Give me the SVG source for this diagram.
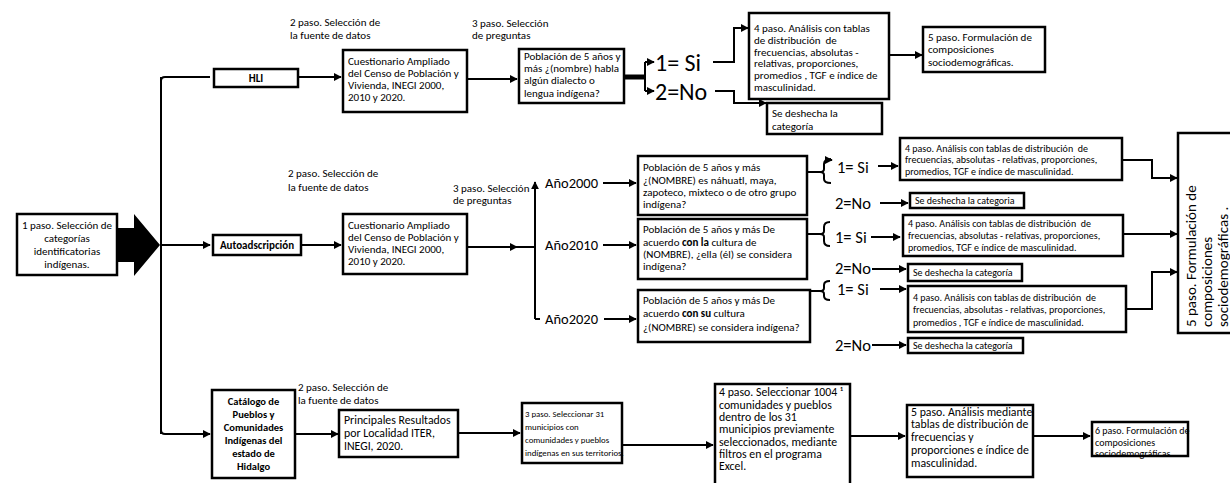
<svg xmlns="http://www.w3.org/2000/svg" width="1230" height="483" viewBox="0 0 1230 483">
<style>
text{font-family:Carlito,Lato,"Liberation Sans",sans-serif;fill:#000}
.t11{font-size:11px}
.t10{font-size:10px}
.t12{font-size:11.8px}
.t9{font-size:8.8px}
.t105{font-size:10.5px}
.t6{font-size:10px}
.b{font-weight:bold}
.big{font-size:24px}
.yr{font-size:14.5px}
.sn{font-size:16.5px}
.rot{font-size:15px}
.box{fill:#fff;stroke:#000;stroke-width:2.5}
.ln{fill:none;stroke:#000;stroke-width:2}
.m{text-anchor:middle}
</style>
<defs>
<marker id="ah" viewBox="0 0 10 10" refX="9" refY="5" markerWidth="4" markerHeight="4" orient="auto" markerUnits="strokeWidth">
<path d="M0,0 L10,5 L0,10 z" fill="#000"/>
</marker>
</defs>

<g id="connectors">
<path d="M117,228 H134 V214 L160,245 L134,276 V262 H117 z" fill="#000"/>
<path class="ln" d="M210,77 H165 Q161,77 161,81 V430 Q161,434 165,434 H210" marker-end="url(#ah)"/>
<path class="ln" d="M161,77 V434"/>
<path class="ln" d="M161,245 H210" marker-end="url(#ah)"/>
<path class="ln" d="M298,77 H341" marker-end="url(#ah)"/>
<path class="ln" d="M467,79 H517" marker-end="url(#ah)"/>
<path d="M624,77 H646" stroke="#000" stroke-width="5" fill="none"/>
<path class="ln" d="M645,62 V91"/>
<path class="ln" d="M645,62 H654" marker-end="url(#ah)"/>
<path class="ln" d="M645,91 H654" marker-end="url(#ah)"/>
<path class="ln" d="M713,62 H734 V28 H748" marker-end="url(#ah)"/>
<path class="ln" d="M715,91 H734 V103 H766" marker-end="url(#ah)"/>
<path class="ln" d="M889,55 H922" marker-end="url(#ah)"/>
<path class="ln" d="M301,245 H341" marker-end="url(#ah)"/>
<path class="ln" d="M467,247 H517" marker-end="url(#ah)"/>
<path class="ln" d="M517,247 H535"/>
<path class="ln" d="M535,319 V182" marker-end="url(#ah)"/>
<path class="ln" d="M535,319 H540"/>
<path class="ln" d="M603,183 H636" marker-end="url(#ah)"/>
<path class="ln" d="M603,245 H636" marker-end="url(#ah)"/>
<path class="ln" d="M604,319 H636" marker-end="url(#ah)"/>
<path class="ln" d="M807,172 H820 M831,159 Q824,159 824,164 V169 Q824,172 820,172 Q824,172 824,175 V179 Q824,183 831,183"/>
<path class="ln" d="M826,160 H832" marker-end="url(#ah)"/>
<path class="ln" d="M807,234 H820 M830,222 Q824,222 824,227 V231 Q824,234 820,234 Q824,234 824,237 V241 Q824,246 830,246"/>
<path class="ln" d="M810,291 H820 M830,281 Q824,281 824,285 V288 Q824,291 820,291 Q824,291 824,294 V296 Q824,300 830,300"/>
<path class="ln" d="M878,166 H898" marker-end="url(#ah)"/>
<path class="ln" d="M880,203 H908" marker-end="url(#ah)"/>
<path class="ln" d="M871,237 H900" marker-end="url(#ah)"/>
<path class="ln" d="M872,269 H906" marker-end="url(#ah)"/>
<path class="ln" d="M880,289 H906" marker-end="url(#ah)"/>
<path class="ln" d="M872,345 H906" marker-end="url(#ah)"/>
<path class="ln" d="M1122,160 H1152 V178 H1177" marker-end="url(#ah)"/>
<path class="ln" d="M1123,234 H1177" marker-end="url(#ah)"/>
<path class="ln" d="M1126,309 H1152 V272 H1177" marker-end="url(#ah)"/>
<path class="ln" d="M295,434 H338" marker-end="url(#ah)"/>
<path class="ln" d="M458,433 H520" marker-end="url(#ah)"/>
<path class="ln" d="M622,445 H713" marker-end="url(#ah)"/>
<path class="ln" d="M850,436 H905" marker-end="url(#ah)"/>
<path class="ln" d="M1033,436 H1090" marker-end="url(#ah)"/>
</g>

<g id="n1">
<rect class="box" x="17" y="214" width="100" height="61"/>
<text class="t11 m" x="67" y="229">1 paso. Selección de</text>
<text class="t11 m" x="67" y="242">categorías</text>
<text class="t11 m" x="67" y="255">identificatorias</text>
<text class="t11 m" x="67" y="268">indígenas.</text>
</g>

<g id="hli">
<rect class="box" x="214" y="69" width="84" height="18"/>
<text class="t11 b m" x="256" y="82">HLI</text>
</g>
<g id="lbl2a"><text class="t11" x="290" y="26">2 paso. Selección de</text><text class="t11" x="290" y="39">la fuente de datos</text></g>
<g id="cuest1">
<rect class="box" x="343" y="50" width="124" height="62"/>
<text class="t11" x="348" y="65">Cuestionario Ampliado</text>
<text class="t11" x="348" y="77">del Censo de Población y</text>
<text class="t11" x="348" y="89">Vivienda, INEGI 2000,</text>
<text class="t11" x="348" y="101">2010 y 2020.</text>
</g>
<g id="lbl3a"><text class="t11" x="472" y="27">3 paso. Selección</text><text class="t11" x="472" y="39">de preguntas</text></g>
<g id="qhli">
<rect class="box" x="519" y="49" width="105" height="54"/>
<text class="t11" x="524" y="60">Población de 5 años y</text>
<text class="t11" x="524" y="72">más ¿(nombre) habla</text>
<text class="t11" x="524" y="84">algún dialecto o</text>
<text class="t11" x="524" y="97">lengua indígena?</text>
</g>
<g id="si0"><text class="big" x="655" y="71">1= Si</text></g>
<g id="no0"><text class="big" x="655" y="100">2=No</text></g>
<g id="p4hli">
<rect class="box" x="749" y="13" width="140" height="86"/>
<text class="t11" x="754" y="32">4 paso. Análisis con tablas</text>
<text class="t11" x="754" y="44" xml:space="preserve">de distribución  de</text>
<text class="t11" x="754" y="56">frecuencias, absolutas -</text>
<text class="t11" x="754" y="67">relativas, proporciones,</text>
<text class="t11" x="754" y="79">promedios , TGF e índice de</text>
<text class="t11" x="754" y="91">masculinidad.</text>
</g>
<g id="deshli">
<rect class="box" x="767" y="103" width="115" height="31"/>
<text class="t11" x="772" y="117">Se deshecha la</text>
<text class="t11" x="772" y="130">categoría</text>
</g>
<g id="p5hli">
<rect class="box" x="923" y="27" width="122" height="45"/>
<text class="t11" x="928" y="41">5 paso. Formulación de</text>
<text class="t11" x="928" y="53">composiciones</text>
<text class="t11" x="928" y="66">sociodemográficas.</text>
</g>

<g id="auto">
<rect class="box" x="213" y="235" width="88" height="20"/>
<text class="t11 b m" x="257" y="249">Autoadscripción</text>
</g>
<g id="lbl2b"><text class="t11" x="288" y="177">2 paso. Selección de</text><text class="t11" x="288" y="191">la fuente de datos</text></g>
<g id="cuest2">
<rect class="box" x="343" y="214" width="124" height="60"/>
<text class="t11" x="348" y="229">Cuestionario Ampliado</text>
<text class="t11" x="348" y="241">del Censo de Población y</text>
<text class="t11" x="348" y="253">Vivienda, INEGI 2000,</text>
<text class="t11" x="348" y="265">2010 y 2020.</text>
</g>
<g id="lbl3b"><text class="t11" x="453" y="192">3 paso. Selección</text><text class="t11" x="453" y="204">de preguntas</text></g>
<g id="y2000"><text class="yr" x="545" y="188">Año2000</text></g>
<g id="y2010"><text class="yr" x="545" y="250">Año2010</text></g>
<g id="y2020"><text class="yr" x="545" y="324">Año2020</text></g>
<g id="q2000">
<rect class="box" x="638" y="156" width="169" height="59"/>
<text class="t11" x="643" y="171">Población de 5 años y más</text>
<text class="t11" x="643" y="184">¿(NOMBRE) es náhuatl, maya,</text>
<text class="t11" x="643" y="196">zapoteco, mixteco o de otro grupo</text>
<text class="t11" x="643" y="208">indígena?</text>
</g>
<g id="q2010">
<rect class="box" x="638" y="219" width="169" height="60"/>
<text class="t11" x="643" y="233">Población de 5 años y más De</text>
<text class="t11" x="643" y="246">acuerdo <tspan class="b">con la</tspan> cultura de</text>
<text class="t11" x="643" y="258">(NOMBRE), ¿ella (él) se considera</text>
<text class="t11" x="643" y="270">indígena?</text>
</g>
<g id="q2020">
<rect class="box" x="638" y="290" width="172" height="52"/>
<text class="t11" x="643" y="304">Población de 5 años y más De</text>
<text class="t11" x="643" y="317">acuerdo <tspan class="b">con su</tspan> cultura</text>
<text class="t11" x="643" y="331">¿(NOMBRE) se considera indígena?</text>
</g>
<g id="si1"><text class="sn" x="837" y="173">1= Si</text></g>
<g id="no1"><text class="sn" x="835" y="209">2=No</text></g>
<g id="si2"><text class="sn" x="835" y="243">1= Si</text></g>
<g id="no2"><text class="sn" x="835" y="274">2=No</text></g>
<g id="si3"><text class="sn" x="837" y="295">1= Si</text></g>
<g id="no3"><text class="sn" x="835" y="351">2=No</text></g>
<g id="p4a">
<rect class="box" x="900" y="138" width="222" height="42"/>
<text class="t10" x="905" y="152" xml:space="preserve">4 paso. Análisis con tablas de distribución  de</text>
<text class="t10" x="905" y="163">frecuencias, absolutas - relativas, proporciones,</text>
<text class="t10" x="905" y="175">promedios, TGF e índice de masculinidad.</text>
</g>
<g id="desa">
<rect class="box" x="910" y="193" width="114" height="15"/>
<text class="t10" x="915" y="204">Se deshecha la categoria</text>
</g>
<g id="p4b">
<rect class="box" x="903" y="215" width="220" height="41"/>
<text class="t10" x="908" y="227" xml:space="preserve">4 paso. Análisis con tablas de distribución  de</text>
<text class="t10" x="908" y="239">frecuencias, absolutas - relativas, proporciones,</text>
<text class="t10" x="908" y="251">promedios, TGF e índice de masculinidad.</text>
</g>
<g id="desb">
<rect class="box" x="908" y="264" width="114" height="17"/>
<text class="t10" x="913" y="276">Se deshecha la categoría</text>
</g>
<g id="p4c">
<rect class="box" x="908" y="286" width="218" height="46"/>
<text class="t10" x="913" y="301" xml:space="preserve">4 paso. Análisis con tablas de distribución  de</text>
<text class="t10" x="913" y="313">frecuencias, absolutas - relativas, proporciones,</text>
<text class="t10" x="913" y="326">promedios , TGF e índice de masculinidad.</text>
</g>
<g id="desc">
<rect class="box" x="908" y="338" width="115" height="15"/>
<text class="t10" x="913" y="349">Se deshecha la categoría</text>
</g>
<g id="p5big">
<rect class="box" x="1178" y="133" width="70" height="200"/>
<text class="rot" transform="translate(1196,327) rotate(-90)">5 paso. Formulación de</text>
<text class="rot" transform="translate(1212,327) rotate(-90)">composiciones</text>
<text class="rot" transform="translate(1228,327) rotate(-90)">sociodemográficas .</text>
</g>

<g id="cat">
<rect class="box" x="212" y="390" width="83" height="88"/>
<text class="t105 b m" x="253.5" y="405">Catálogo de</text>
<text class="t105 b m" x="253.5" y="418">Pueblos y</text>
<text class="t105 b m" x="253.5" y="431">Comunidades</text>
<text class="t105 b m" x="253.5" y="444">Indígenas del</text>
<text class="t105 b m" x="253.5" y="457">estado de</text>
<text class="t105 b m" x="253.5" y="470">Hidalgo</text>
</g>
<g id="lbl2c"><text class="t11" x="298" y="391">2 paso. Selección de</text><text class="t11" x="298" y="404">la fuente de datos</text></g>
<g id="princ">
<rect class="box" x="339" y="410" width="119" height="47"/>
<text class="t12" x="344" y="424">Principales Resultados</text>
<text class="t12" x="344" y="437">por Localidad ITER,</text>
<text class="t12" x="344" y="450">INEGI, 2020.</text>
</g>
<g id="p3c">
<rect class="box" x="522" y="403" width="100" height="60"/>
<text class="t9" x="525" y="417">3 paso. Seleccionar 31</text>
<text class="t9" x="525" y="430">municipios con</text>
<text class="t9" x="525" y="443">comunidades y pueblos</text>
<text class="t9" x="525" y="456">indígenas en sus territorios.</text>
</g>
<g id="p4d">
<rect class="box" x="715" y="384" width="135" height="106"/>
<text class="t12" x="719" y="396">4 paso. Seleccionar 1004 ¹</text>
<text class="t12" x="719" y="409">comunidades y pueblos</text>
<text class="t12" x="719" y="421">dentro de los 31</text>
<text class="t12" x="719" y="433">municipios previamente</text>
<text class="t12" x="719" y="446">seleccionados, mediante</text>
<text class="t12" x="719" y="458">filtros en el programa</text>
<text class="t12" x="719" y="470">Excel.</text>
</g>
<g id="p5c">
<rect class="box" x="907" y="405" width="126" height="72"/>
<text class="t12" x="911" y="416">5 paso. Análisis mediante</text>
<text class="t12" x="911" y="428">tablas de distribución de</text>
<text class="t12" x="911" y="441">frecuencias y</text>
<text class="t12" x="911" y="454">proporciones e índice de</text>
<text class="t12" x="911" y="467">masculinidad.</text>
</g>
<g id="p6c">
<rect class="box" x="1092" y="422" width="96" height="34"/>
<text class="t6" x="1095" y="434">6 paso. Formulación de</text>
<text class="t6" x="1095" y="446">composiciones</text>
<text class="t6" x="1095" y="457">sociodemográficas</text>
</g>
</svg>
